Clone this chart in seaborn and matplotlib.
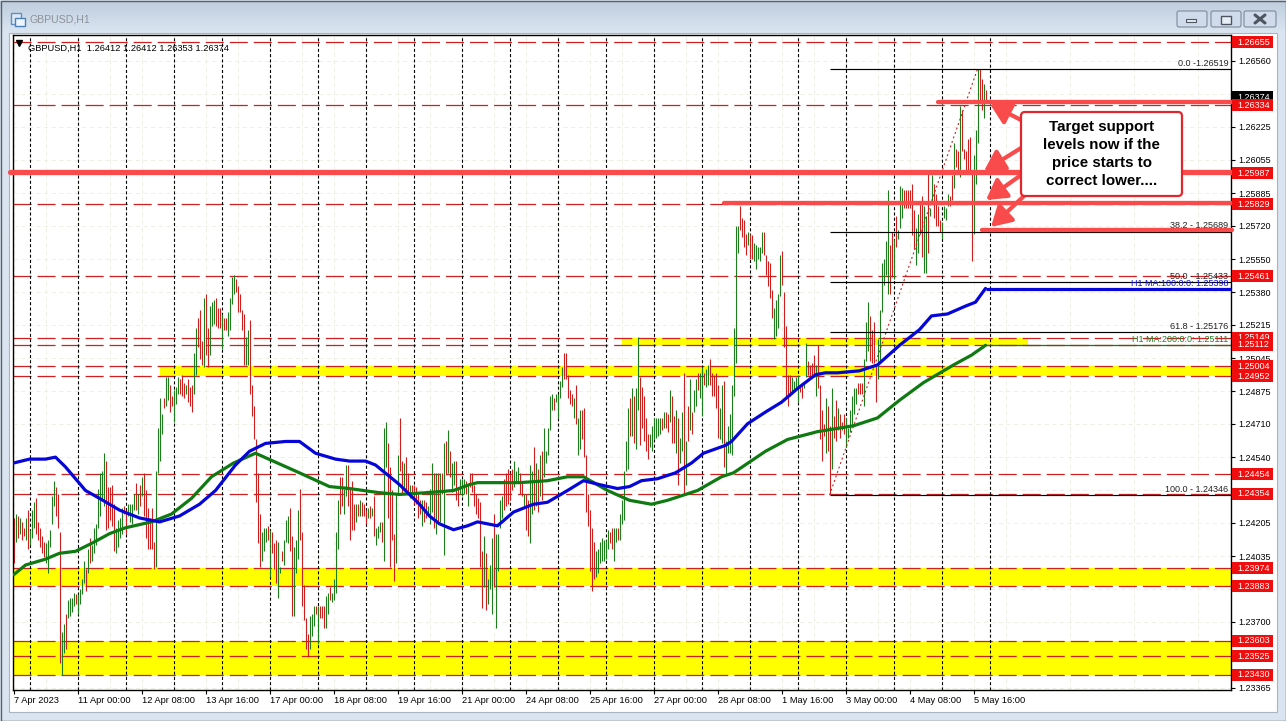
#!/usr/bin/env python3
"""GBPUSD H1 chart with support levels, rebuilt from the MT4 screenshot."""

import matplotlib

matplotlib.use("Agg")
import matplotlib.pyplot as plt
import numpy as np
import seaborn as sns
from matplotlib.colors import LinearSegmentedColormap
from matplotlib.patches import FancyBboxPatch, Rectangle

# bar values are pips above 1.2000, one entry per hourly bar
bar_high = [
    423, 425, 424, 423, 421, 418, 423, 427, 417, 427,
    431, 433, 421, 418, 414, 411, 410, 412, 417, 434,
    442, 439, 435, 416, 365, 369, 374, 381, 382, 382,
    385, 384, 384, 387, 392, 401, 397, 407, 413, 409,
    418, 420, 438, 446, 447, 456, 452, 439, 439, 440,
    430, 418, 422, 423, 428, 429, 427, 430, 430, 430,
    435, 441, 435, 440, 444, 446, 437, 428, 423, 428,
    411, 447, 469, 484, 476, 484, 495, 495, 491, 485,
    488, 490, 495, 494, 496, 492, 491, 494, 490, 491,
    507, 520, 525, 529, 513, 535, 537, 520, 531, 533,
    534, 535, 530, 530, 527, 525, 525, 528, 535, 546,
    547, 545, 541, 537, 529, 527, 515, 519, 524, 491,
    480, 463, 446, 425, 416, 418, 418, 419, 417, 416,
    410, 412, 411, 398, 406, 412, 422, 424, 428, 414,
    408, 412, 427, 438, 416, 389, 372, 364, 373, 374,
    378, 378, 378, 378, 378, 378, 383, 385, 388, 385,
    392, 416, 432, 444, 444, 438, 450, 450, 438, 442,
    430, 430, 430, 432, 431, 430, 427, 428, 429, 428,
    434, 418, 419, 421, 421, 469, 472, 461, 449, 437,
    415, 435, 455, 474, 452, 451, 454, 446, 440, 440,
    440, 439, 435, 432, 432, 432, 431, 429, 438, 451,
    446, 446, 446, 446, 446, 461, 462, 468, 457, 451,
    452, 452, 438, 443, 443, 443, 442, 440, 446, 446,
    440, 435, 433, 431, 406, 414, 405, 392, 399, 413,
    425, 415, 415, 432, 434, 443, 446, 448, 446, 448,
    452, 447, 449, 446, 441, 435, 435, 432, 450, 447,
    459, 451, 448, 455, 457, 469, 457, 469, 485, 486,
    484, 486, 486, 493, 500, 507, 507, 496, 488, 486,
    484, 491, 474, 478, 478, 479, 455, 435, 427, 418,
    411, 406, 407, 411, 413, 412, 412, 417, 416, 418,
    418, 418, 418, 425, 432, 447, 462, 479, 484, 489,
    485, 489, 515, 495, 490, 485, 474, 466, 466, 470,
    474, 474, 474, 474, 474, 477, 477, 476, 488, 485,
    475, 478, 474, 464, 477, 497, 462, 480, 494, 477,
    488, 494, 497, 497, 500, 497, 499, 501, 504, 497,
    496, 497, 491, 479, 491, 493, 462, 470, 476, 491,
    520, 572, 572, 582, 576, 575, 568, 569, 568, 567,
    563, 562, 561, 561, 569, 569, 557, 554, 553, 539,
    530, 534, 537, 557, 559, 538, 521, 496, 496, 495,
    493, 495, 496, 491, 492, 492, 512, 503, 501, 502,
    506, 501, 511, 491, 478, 471, 484, 480, 470, 489,
    475, 483, 479, 476, 472, 476, 474, 469, 478, 485,
    489, 489, 492, 492, 492, 504, 523, 533, 526, 519,
    523, 501, 514, 529, 553, 555, 564, 590, 562, 569,
    565, 577, 570, 592, 591, 590, 590, 590, 590, 593,
    580, 571, 578, 583, 587, 582, 577, 599, 581, 598,
    593, 588, 582, 575, 574, 582, 581, 588, 587, 598,
    614, 611, 610, 633, 631, 611, 610, 616, 617, 599,
    608, 621, 652, 652, 647, 644, 641,
]
bar_low = [
    400, 411, 413, 415, 412, 414, 412, 407, 409, 413,
    418, 415, 412, 408, 405, 403, 400, 395, 408, 420,
    429, 424, 418, 349, 343, 354, 356, 372, 373, 375,
    378, 379, 374, 379, 384, 390, 386, 395, 400, 401,
    405, 409, 418, 424, 432, 429, 417, 418, 422, 419,
    406, 405, 408, 413, 415, 425, 415, 424, 421, 420,
    427, 427, 425, 429, 434, 424, 413, 407, 407, 407,
    397, 398, 446, 452, 466, 479, 480, 483, 477, 480,
    472, 481, 486, 486, 485, 484, 486, 482, 480, 477,
    486, 496, 510, 504, 501, 500, 506, 500, 506, 521,
    522, 521, 520, 520, 509, 519, 519, 516, 519, 532,
    537, 538, 528, 528, 519, 501, 501, 501, 486, 475,
    463, 431, 410, 398, 401, 406, 411, 412, 393, 405,
    397, 390, 382, 395, 401, 399, 411, 410, 406, 373,
    373, 395, 402, 412, 378, 371, 356, 352, 356, 363,
    368, 374, 359, 372, 372, 367, 367, 374, 381, 380,
    381, 385, 407, 425, 429, 425, 434, 429, 412, 417,
    417, 421, 424, 424, 424, 424, 420, 423, 423, 424,
    414, 409, 413, 416, 411, 401, 449, 423, 398, 412,
    391, 400, 435, 447, 435, 439, 437, 435, 433, 435,
    430, 430, 423, 425, 419, 421, 423, 424, 420, 426,
    418, 415, 420, 421, 435, 404, 445, 446, 444, 436,
    440, 432, 429, 435, 434, 435, 435, 429, 439, 436,
    429, 425, 423, 398, 377, 388, 376, 379, 387, 374,
    388, 367, 396, 418, 423, 427, 429, 430, 432, 437,
    439, 442, 442, 435, 434, 429, 417, 414, 410, 425,
    427, 429, 426, 434, 432, 444, 451, 455, 468, 478,
    478, 482, 474, 484, 490, 494, 494, 484, 481, 480,
    474, 471, 455, 458, 463, 454, 426, 419, 396, 386,
    392, 393, 395, 400, 401, 401, 402, 407, 410, 407,
    401, 411, 412, 412, 420, 422, 447, 448, 465, 465,
    461, 458, 478, 460, 469, 462, 457, 453, 459, 457,
    463, 464, 465, 466, 468, 469, 469, 467, 472, 461,
    461, 456, 440, 451, 457, 435, 440, 462, 468, 466,
    477, 480, 488, 484, 475, 491, 490, 491, 491, 485,
    485, 479, 464, 463, 461, 449, 446, 456, 456, 455,
    485, 502, 558, 570, 566, 561, 557, 562, 555, 555,
    554, 550, 555, 554, 558, 557, 547, 541, 535, 525,
    514, 516, 520, 536, 542, 510, 485, 480, 485, 486,
    487, 488, 482, 487, 484, 489, 495, 496, 495, 495,
    495, 485, 489, 463, 452, 465, 456, 457, 435, 448,
    464, 462, 468, 464, 468, 466, 459, 464, 467, 470,
    476, 481, 486, 486, 486, 480, 503, 508, 503, 502,
    502, 482, 494, 503, 528, 542, 547, 537, 537, 546,
    545, 561, 565, 571, 576, 581, 581, 581, 581, 567,
    560, 552, 558, 568, 556, 548, 548, 558, 577, 583,
    576, 572, 572, 569, 565, 576, 575, 582, 582, 585,
    591, 602, 599, 597, 610, 606, 600, 599, 599, 554,
    568, 593, 614, 635, 631, 627, 635,
]
# g = up bar, r = down bar, ten bars a row
bar_dir = "".join([
    "rgrgrrgrgg", "grrrrrgggg", "grrrggrggg", "grggggrgrg", "ggggggrrrr",
    "rggggrrggg", "grgrgrrrrr", "rggggrggrr", "gggrrrgrrr", "ggrrrgrrgg",
    "grrrgrrggg", "grrrrrggrr", "rrrrgggrgr", "rrggrgggrr", "gggrrrrrgg",
    "grgrrrggrg", "gggrrggrrr", "rgrgrrrgrg", "rgggrggrrr", "rggrrgrrgr",
    "rrrrgrrggg", "rgrgrgrgrg", "grrgggrgrr", "rrrrrgrggg", "rggggrrrrr",
    "gggrrgrrgg", "rgrgrggggg", "rggggrrrrr", "grggrrrrrr", "rgggggggrr",
    "ggrgggggrg", "rggrrrrrgg", "ggggrgrrgr", "rgrggrgrgr", "ggrggrggrr",
    "rrrggrgggg", "gggrrrrgrr", "gggggrrrrr", "ggggrrrrrg", "gggrrggrrr",
    "rgrrrrgrrg", "rrgrrrgggg", "ggrrrgggrr", "rrggggggrr", "grgggrrrrr",
    "rggrrggrgg", "rrrrggggrr", "grrgrrrrrr", "gggrrgr",
])

# moving averages, sampled at the hours where the curve bends
ma100_hours = [
    0, 8, 16, 21, 26, 36, 43, 53, 63, 73, 83, 93, 101, 111, 118, 126, 136, 143,
    151, 161, 168, 176, 181, 193, 203, 208, 213, 220, 227, 232, 242, 250, 260,
    267, 277, 285, 293, 302, 308, 314, 322, 331, 339, 345, 356, 359, 367, 376,
    384, 392, 401, 406, 412, 423, 432, 443, 453, 459, 467, 476, 481, 486,
]
ma100_pips = [
    451, 453, 453, 454, 449, 437, 433, 427, 423, 421, 424, 430, 437, 450, 457,
    461, 462, 462, 456, 453, 452, 452, 450, 440, 430, 424, 420, 417, 419, 421,
    419, 426, 430, 431, 437, 442, 440, 438, 439, 442, 443, 446, 451, 456, 460,
    462, 471, 477, 482, 489, 496, 497, 497, 498, 501, 511, 519, 526, 527, 531,
    533, 540,
]
ma200_hours = [
    0, 6, 16, 23, 31, 39, 48, 56, 69, 79, 89, 99, 110, 121, 132, 143, 158, 168,
    182, 193, 208, 220, 228, 232, 253, 267, 277, 285, 297, 308, 319, 327, 342,
    354, 360, 376, 387, 402, 420, 432, 443, 455, 470, 479, 486,
]
ma200_pips = [
    394, 399, 402, 405, 406, 410, 415, 418, 421, 425, 433, 444, 451, 456, 451,
    446, 439, 438, 436, 435, 436, 437, 440, 441, 441, 442, 444, 444, 437, 432,
    430, 432, 437, 444, 446, 457, 463, 467, 470, 474, 483, 492, 501, 506, 511,
]
ma100_last = 1.25398
ma200_last = 1.25111

price_ticks = [
    1.26560, 1.26390, 1.26225, 1.26055, 1.25885, 1.25720, 1.25550, 1.25380,
    1.25215, 1.25045, 1.24875, 1.24710, 1.24540, 1.24370, 1.24205, 1.24035,
    1.23870, 1.23700, 1.23530, 1.23365,
]
date_ticks = [
    "7 Apr 2023", "11 Apr 00:00", "12 Apr 08:00", "13 Apr 16:00", "17 Apr 00:00",
    "18 Apr 08:00", "19 Apr 16:00", "21 Apr 00:00", "24 Apr 08:00", "25 Apr 16:00",
    "27 Apr 00:00", "28 Apr 08:00", "1 May 16:00", "3 May 00:00", "4 May 08:00",
    "5 May 16:00",
]

level_prices = [
    1.26655, 1.26334, 1.25987, 1.25829, 1.25461, 1.25149, 1.25112, 1.25004,
    1.24952, 1.24454, 1.24354, 1.23974, 1.23883, 1.23603, 1.23525, 1.23430,
]
bid_price = 1.26374

fib_names = ["0.0 -1.26519", "38.2 - 1.25689", "50.0 - 1.25433", "61.8 - 1.25176", "100.0 - 1.24346"]
fib_prices = [1.26519, 1.25689, 1.25433, 1.25176, 1.24346]
fib_start_hour = 408
fib_peak_hour = 482

# yellow zones: price low, price high, first hour, last hour
zone_low = [1.23430, 1.23525, 1.23883, 1.24952, 1.25112]
zone_high = [1.23525, 1.23603, 1.23974, 1.25004, 1.25149]
zone_start = [-1, -1, -1, 73, 304]
zone_end = [609, 609, 609, 609, 507]

target_prices = [1.25995, 1.26350, 1.25838, 1.25696]
target_start = [-2, 462, 355, 484]
target_width = [3.8, 3.1, 3.1, 3.1]

header_text = "GBPUSD,H1  1.26412 1.26412 1.26353 1.26374"
callout_text = "Target support\nlevels now if the\nprice starts to\ncorrect lower...."

RED = "#d01e1e"
GREEN = "#1c7d1c"
LEVEL = "#cf1f1f"
TARGET = "#f94b4b"
LABEL_RED = "#f00d0d"
WIDTH, HEIGHT = 1286, 721
LEFT, RIGHT, TOP, BOTTOM = 12.5, 1231, 35, 690
YLIM = (1.23353, 1.26692)
AX_SIZE = 6.5


def to_price(pips):
    return 1.2 + np.asarray(pips, dtype=float) / 1e4


sns.set_theme(style="white")
plt.rcParams["font.family"] = ["Liberation Sans", "DejaVu Sans"]
plt.rcParams["lines.scale_dashes"] = False

fig = plt.figure(figsize=(WIDTH / 100, HEIGHT / 100), dpi=100, facecolor="#d9e4f0")

# window frame behind the chart
back = fig.add_axes([0, 0, 1, 1], zorder=0)
title_cmap = LinearSegmentedColormap.from_list("title", ["#bfcddd", "#dae5f1"])
back.imshow(np.linspace(0, 1, 32).reshape(-1, 1), cmap=title_cmap, aspect="auto", extent=(0, WIDTH, 33, 1))
back.set_xlim(0, WIDTH)
back.set_ylim(HEIGHT, 0)
back.axis("off")
back.add_patch(Rectangle((9, 33), 1268, 679, fc="white", ec="#a8b4c2", lw=0.8))
back.add_patch(Rectangle((0.5, 0.5), WIDTH - 1, HEIGHT - 1, fc="none", ec="#5b6068", lw=1))
back.add_patch(Rectangle((11, 13), 10, 11, fc="#dfe9f5", ec="#5e8fc4", lw=1))
back.add_patch(Rectangle((15, 18), 10, 8, fc="#eef4fb", ec="#4b7fb8", lw=1))
back.text(30, 19.5, "GBPUSD,H1", color="#8d9299", fontsize=7.6, va="center")
for bx, bw in [(1177, 30), (1211, 30), (1244, 32)]:
    back.add_patch(FancyBboxPatch((bx, 11), bw, 16, boxstyle="round,pad=0,rounding_size=2",
                                  fc="#cfdaea", ec="#7f8a98", lw=0.8))
back.add_patch(Rectangle((1186, 19), 10, 3, fc="#e8eef6", ec="#4c5560", lw=0.8))
back.add_patch(Rectangle((1221, 16), 10, 8, fc="#e8eef6", ec="#4c5560", lw=1))
back.plot([1255, 1265], [15, 23], color="#4c5560", lw=2.2)
back.plot([1255, 1265], [23, 15], color="#4c5560", lw=2.2)

ax = fig.add_axes(
    [LEFT / WIDTH, (HEIGHT - BOTTOM) / HEIGHT, (RIGHT - LEFT) / WIDTH, (BOTTOM - TOP) / HEIGHT],
    zorder=1,
    facecolor="white",
)
ax.set_xlim(-0.5, 608.75)
ax.set_ylim(*YLIM)
for spine in ax.spines.values():
    spine.set_color("black")
    spine.set_linewidth(1)
    spine.set_visible(True)

# price and date axes
ax.yaxis.tick_right()
ax.set_yticks(price_ticks, [f"{p:.5f}" for p in price_ticks])
ax.set_xticks(np.arange(len(date_ticks)) * 32, date_ticks)
ax.set_xticks(np.arange(16, 609, 32), minor=True)
ax.tick_params(axis="y", length=3, width=0.8, pad=2.5, labelsize=AX_SIZE, colors="black", right=True)
ax.tick_params(axis="x", which="major", length=3, width=0.8, pad=1.5, labelsize=6.65, colors="black", bottom=True)
ax.tick_params(axis="x", which="minor", length=0)
for tick_label in ax.get_xticklabels():
    tick_label.set_ha("left")
ax.grid(True, which="both", color="#f1eee6", linewidth=0.7, linestyle=(0, (3, 2.5)), zorder=0.5)
ax.set_axisbelow(True)

for low, high, start, end in zip(zone_low, zone_high, zone_start, zone_end):
    ax.fill_between([start, end], low, high, color="#ffff00", linewidth=0, zorder=1)

ax.hlines(level_prices, -0.5, 608.75, colors=LEVEL, linewidth=0.9, linestyles=[(0, (13, 4.3))], zorder=1.5)

# period separators
ax.vlines(np.arange(8, 490, 24), *YLIM, colors="black", linewidth=0.8,
          linestyles=[(0, (2.2, 1.6))], zorder=1.7)

hours = np.arange(len(bar_high))
bar_colors = [GREEN if d == "g" else RED for d in bar_dir]
ax.vlines(hours, to_price(bar_low), to_price(bar_high), colors=bar_colors, linewidth=0.78, zorder=2)

ax.plot([fib_start_hour, fib_peak_hour], [fib_prices[-1], fib_prices[0]], color="#c81e1e",
        linewidth=0.8, linestyle=(0, (1.4, 2)), zorder=2.1)
ax.hlines(fib_prices, fib_start_hour, 608.75, colors="black", linewidth=0.85, zorder=2.2)
for name, price in zip(fib_names, fib_prices):
    ax.text(607.5, price + 0.00030, name, ha="right", va="center", fontsize=AX_SIZE, color="#222222", zorder=2.3)

sns.lineplot(x=ma200_hours, y=to_price(ma200_pips), ax=ax, color="#0f7a12", linewidth=2.3,
             estimator=None, sort=False, zorder=3)
sns.lineplot(x=ma100_hours, y=to_price(ma100_pips), ax=ax, color="#0606d8", linewidth=2.3,
             estimator=None, sort=False, zorder=3.1)
ax.hlines(ma100_last, ma100_hours[-1], 608.75, colors="#0606d8", linewidth=2.3, zorder=3.1)
ax.hlines(ma200_last, ma200_hours[-1], 608.75, colors="#0f7a12", linewidth=0.9, zorder=3)
ax.text(607.5, ma100_last + 0.00025, "H1 MA:100:0:0: 1.25398", ha="right", va="center", fontsize=AX_SIZE,
        color="#1414d0", zorder=2.3)
ax.text(607.5, ma200_last + 0.00030, "H1 MA:200:0:0: 1.25111", ha="right", va="center", fontsize=AX_SIZE,
        color="#1f7f24", zorder=2.3)

for price, start, width in zip(target_prices, target_start, target_width):
    ax.plot([start, 609], [price, price], color=TARGET, linewidth=width, solid_capstyle="round",
            clip_on=False, zorder=4)

ax.text(7.5, 1.26622, header_text, fontsize=6.7, color="black", va="center", zorder=4.5)
ax.set_xlabel("")
ax.set_ylabel("")

# price flags on the right edge
flag_transform = ax.get_yaxis_transform()
flag_height = 0.00061


def draw_flag(price, color, order):
    ax.add_patch(Rectangle((1.0008, price - flag_height / 2), 0.0336, flag_height, transform=flag_transform,
                           fc=color, ec="none", clip_on=False, zorder=order))
    ax.text(1.0049, price, f"{price:.5f}", transform=flag_transform, fontsize=AX_SIZE, color="white", va="center",
            clip_on=False, zorder=order + 0.01)


draw_flag(bid_price, "black", 5)
for n, level in enumerate(level_prices):
    draw_flag(level, LABEL_RED, 5.1 + n * 0.05)

# callout and arrows drawn over everything
front = fig.add_axes([0, 0, 1, 1], zorder=2)
front.set_xlim(0, WIDTH)
front.set_ylim(HEIGHT, 0)
front.axis("off")
front.plot(19, 43, marker="v", markersize=4.5, color="black", zorder=2)
for tail, tip in [((1021, 120), (990, 104)), ((1021, 148), (984, 171)),
                  ((1021, 175), (986, 200)), ((1024, 196), (991, 227))]:
    front.annotate("", xy=tip, xytext=tail, zorder=2,
                   arrowprops=dict(arrowstyle="-|>,head_length=1.2,head_width=0.7", color=TARGET,
                                   lw=3.0, shrinkA=0, shrinkB=0, mutation_scale=10))
front.add_patch(FancyBboxPatch((1021, 112), 161, 84, boxstyle="round,pad=0,rounding_size=4",
                               fc="white", ec="#e3262c", lw=1.6, zorder=3))
front.text(1101.5, 154, callout_text, ha="center", va="center", fontsize=10.9, fontweight="bold",
           color="black", linespacing=1.39, zorder=4)

fig.savefig("out.png", dpi=100, facecolor=fig.get_facecolor())
